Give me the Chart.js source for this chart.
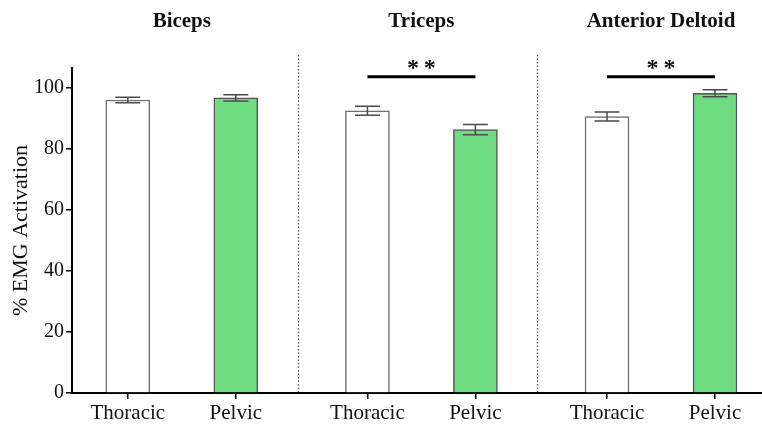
<!DOCTYPE html>
<html>
<head>
<meta charset="utf-8">
<script src="https://cdn.jsdelivr.net/npm/chart.js@4.4.1/dist/chart.umd.min.js"></script>
<style>
  html, body { margin: 0; padding: 0; background: #ffffff; }
  #wrap { width: 762px; height: 427px; }
</style>
</head>
<body>
<div id="wrap"><canvas id="c" width="762" height="427"></canvas></div>
<script>
// Mean EMG activation (% of max) per muscle, thoracic vs pelvic support, with SEM
const muscles = ['Biceps', 'Triceps', 'Anterior Deltoid'];
const postures = ['Thoracic', 'Pelvic'];
const thoracicMean = [96.0, 92.5, 90.6];
const thoracicSem = [0.9, 1.5, 1.5];
const pelvicMean = [96.7, 86.3, 98.2];
const pelvicSem = [1.0, 1.7, 1.15];
const sigMarks = ['', '**', '**'];
const sigLevel = 103.6;
const yTicks = [0, 20, 40, 60, 80, 100];

const SERIF = '"Liberation Serif", "Times New Roman", serif';
const GROUP_STEP = 2.2185;               // distance between muscle groups (bar spacing = 1)
const pos = (g, p) => g * GROUP_STEP + p; // x value of posture p in group g

const barPositions = [];
muscles.forEach((m, g) => postures.forEach((p, i) => barPositions.push(pos(g, i))));

const thoracicData = thoracicMean.map((v, g) => ({ x: pos(g, 0), y: v }));
const pelvicData = pelvicMean.map((v, g) => ({ x: pos(g, 1), y: v }));

const annotations = {
  id: 'annotations',
  afterDatasetsDraw(chart) {
    const ctx = chart.ctx;
    const y = chart.scales.y;
    const sems = [thoracicSem, pelvicSem];
    const means = [thoracicMean, pelvicMean];
    ctx.save();
    ctx.strokeStyle = '#4a4a4a';
    ctx.lineWidth = 1.5;
    chart.data.datasets.forEach((ds, di) => {
      chart.getDatasetMeta(di).data.forEach((bar, g) => {
        const top = y.getPixelForValue(means[di][g] + sems[di][g]);
        const bot = y.getPixelForValue(means[di][g] - sems[di][g]);
        const cx = bar.x, hw = 12.5;
        ctx.beginPath();
        ctx.moveTo(cx, top); ctx.lineTo(cx, bot);
        ctx.moveTo(cx - hw, top); ctx.lineTo(cx + hw, top);
        ctx.moveTo(cx - hw, bot); ctx.lineTo(cx + hw, bot);
        ctx.stroke();
      });
    });
    ctx.restore();
  },
  afterDraw(chart) {
    const ctx = chart.ctx;
    const x = chart.scales.x, y = chart.scales.y;
    const area = chart.chartArea;
    ctx.save();

    // dotted separators between muscle groups
    ctx.strokeStyle = '#555555';
    ctx.lineWidth = 1.3;
    ctx.setLineDash([1.5, 2]);
    for (let g = 0; g < muscles.length - 1; g++) {
      const px = Math.round(x.getPixelForValue(pos(g, 1) + 0.47 * (GROUP_STEP - 1))) + 0.5;
      ctx.beginPath();
      ctx.moveTo(px, area.top - 13);
      ctx.lineTo(px, area.bottom - 1);
      ctx.stroke();
    }
    ctx.setLineDash([]);

    // muscle titles
    ctx.fillStyle = '#111111';
    ctx.font = 'bold 21px ' + SERIF;
    ctx.textAlign = 'center';
    ctx.textBaseline = 'alphabetic';
    muscles.forEach((m, g) => {
      ctx.fillText(m, x.getPixelForValue(pos(g, 0.5)), 26.5);
    });

    // significance brackets
    const ly = y.getPixelForValue(sigLevel);
    sigMarks.forEach((mark, g) => {
      if (!mark) return;
      const x1 = x.getPixelForValue(pos(g, 0));
      const x2 = x.getPixelForValue(pos(g, 1));
      ctx.strokeStyle = '#000000';
      ctx.lineWidth = 3;
      ctx.beginPath();
      ctx.moveTo(x1, ly); ctx.lineTo(x2, ly);
      ctx.stroke();
      ctx.font = 'bold 24px ' + SERIF;
      ctx.fillStyle = '#111111';
      ctx.fillText(mark.split('').join('\u2009'), (x1 + x2) / 2, ly - 1.5);
    });
    ctx.restore();
  }
};

new Chart(document.getElementById('c'), {
  type: 'bar',
  data: {
    datasets: [
      {
        label: postures[0],
        data: thoracicData,
        backgroundColor: '#ffffff',
        borderColor: '#6e6e6e',
        borderWidth: 1.5,
        barThickness: 44,
        grouped: false
      },
      {
        label: postures[1],
        data: pelvicData,
        backgroundColor: '#6fdc82',
        borderColor: '#555555',
        borderWidth: 1.5,
        barThickness: 44,
        grouped: false
      }
    ]
  },
  options: {
    responsive: false,
    animation: false,
    devicePixelRatio: 1,
    layout: { padding: { top: 68, right: 0, bottom: 0, left: 0 } },
    plugins: { legend: { display: false }, tooltip: { enabled: false } },
    scales: {
      x: {
        type: 'linear',
        min: -0.5167,
        max: 5.872,
        offset: false,
        afterBuildTicks: s => { s.ticks = barPositions.map(v => ({ value: v })); },
        afterFit: s => { s.height = 34; },
        ticks: {
          autoSkip: false,
          maxRotation: 0,
          padding: 2,
          color: '#111111',
          font: { family: SERIF, size: 21 },
          callback: (v, i) => postures[i % postures.length]
        },
        grid: { display: true, offset: false, drawOnChartArea: false, drawTicks: true, tickLength: 6, color: '#000000', lineWidth: 1.5 },
        border: { display: true, color: '#000000', width: 2 }
      },
      y: {
        min: 0,
        max: 106.5,
        afterBuildTicks: s => { s.ticks = yTicks.map(v => ({ value: v })); },
        afterFit: s => { s.width = 72; },
        ticks: {
          padding: 2,
          color: '#111111',
          font: { family: SERIF, size: 20 }
        },
        grid: { display: true, drawOnChartArea: false, drawTicks: true, tickLength: 6, color: '#000000', lineWidth: 1.5 },
        border: { display: true, color: '#000000', width: 2 },
        title: {
          display: true,
          text: '% EMG Activation',
          color: '#111111',
          font: { family: SERIF, size: 22 },
          padding: { top: 8, bottom: 0 }
        }
      }
    }
  },
  plugins: [annotations]
});
</script>
</body>
</html>
